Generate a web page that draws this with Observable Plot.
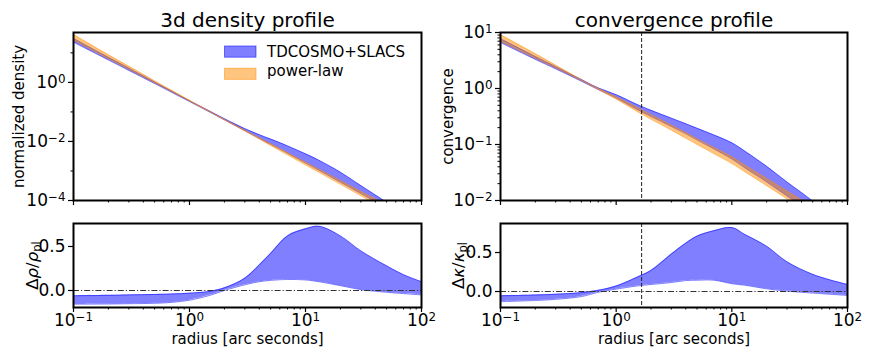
<!DOCTYPE html>
<html><head><meta charset="utf-8">
<script src="https://cdn.jsdelivr.net/npm/d3@7"></script>
<script src="https://cdn.jsdelivr.net/npm/@observablehq/plot@0.6"></script>
<style>
html,body{margin:0;padding:0;background:#fff;}
#root{position:relative;width:872px;height:363px;overflow:hidden;font-family:"DejaVu Sans",sans-serif;}
#root > svg{position:absolute;}
</style></head><body><div id="root"></div>
<script>
// ---------- data ----------
const radius = [0.1, 0.2, 0.3, 0.5, 0.7, 1, 1.5, 2, 3, 4, 5, 7, 10, 13, 20, 30, 50, 70, 100];
// log10 of normalized 3d density, band bounds
const rhoModelLo = [1.36, 0.759, 0.404, -0.039, -0.335, -0.65, -1.01, -1.271, -1.636, -1.897, -2.099, -2.40, -2.73, -2.973, -3.381, -3.766, -4.259, -4.58, -4.93];
const rhoModelHi = [1.49, 0.849, 0.479, 0.011, -0.295, -0.62, -0.975, -1.231, -1.566, -1.772, -1.919, -2.15, -2.42, -2.633, -3.041, -3.496, -4.059, -4.42, -4.78];
const rhoPlLo = [1.43, 0.804, 0.444, -0.009, -0.31, -0.632, -1.0, -1.266, -1.65, -1.923, -2.136, -2.456, -2.795, -3.044, -3.453, -3.839, -4.325, -4.644, -4.983];
const rhoPlHi = [1.62, 0.934, 0.544, 0.051, -0.27, -0.608, -0.99, -1.256, -1.622, -1.881, -2.082, -2.384, -2.705, -2.942, -3.329, -3.693, -4.153, -4.456, -4.777];
// log10 of convergence, band bounds
const kappaModelLo = [0.82, 0.52, 0.35, 0.13, -0.02, -0.17, -0.37, -0.50, -0.68, -0.81, -0.92, -1.08, -1.26, -1.42, -1.67, -1.92, -2.23, -2.43, -2.64];
const kappaModelHi = [0.89, 0.57, 0.39, 0.16, 0.01, -0.11, -0.28, -0.39, -0.53, -0.63, -0.71, -0.83, -0.97, -1.12, -1.39, -1.67, -2.01, -2.28, -2.52];
const kappaPlLo = [0.84, 0.54, 0.365, 0.142, -0.02, -0.19, -0.405, -0.55, -0.745, -0.89, -1.0, -1.165, -1.34, -1.49, -1.735, -1.97, -2.265, -2.46, -2.665];
const kappaPlHi = [0.96, 0.62, 0.415, 0.158, 0.0, -0.15, -0.335, -0.47, -0.655, -0.79, -0.9, -1.055, -1.22, -1.37, -1.605, -1.83, -2.115, -2.30, -2.495];
// relative deviation from power-law
const dRhoLo = [-0.155, -0.153, -0.15, -0.145, -0.135, -0.11, -0.055, 0.0, 0.065, 0.10, 0.115, 0.125, 0.12, 0.10, 0.055, 0.01, -0.02, -0.035, -0.05];
const dRhoHi = [-0.06, -0.055, -0.05, -0.045, -0.04, -0.03, -0.01, 0.03, 0.14, 0.29, 0.42, 0.62, 0.70, 0.73, 0.62, 0.45, 0.28, 0.18, 0.10];
const dKappaLo = [-0.13, -0.115, -0.10, -0.065, -0.01, 0.03, 0.07, 0.09, 0.115, 0.14, 0.145, 0.145, 0.10, 0.08, 0.035, 0.005, -0.02, -0.035, -0.05];
const dKappaHi = [-0.055, -0.045, -0.035, -0.015, 0.015, 0.07, 0.18, 0.27, 0.48, 0.62, 0.71, 0.78, 0.82, 0.73, 0.58, 0.38, 0.22, 0.15, 0.09];
const einsteinRadius = 1.66;

const titles = ["3d density profile", "convergence profile"];
const yLabels = ["normalized density", "convergence", "Δρ/ρ_pl", "Δκ/κ_pl"];
const xLabel = "radius [arc seconds]";
const legendLabels = ["TDCOSMO+SLACS", "power-law"];

const xMajor = [0.1, 1, 10, 100];
const xMinor = [0.1, 1, 10].flatMap(d => [2,3,4,5,6,7,8,9].map(k => k * d));
const rhoMajor = [1, 1e-2, 1e-4];
const rhoMinor = [10, 1e-1, 1e-3];
const kappaMajor = [10, 1, 0.1, 0.01];
const kappaMinor = [0.01, 0.1, 1].flatMap(d => [2,3,4,5,6,7,8,9].map(k => k * d));
const deltaTicks = [0, 0.5];

// ---------- styling ----------
const BLUE = "blue";
const ORANGE = "#ff8c00";
const FONT = "DejaVu Sans";
const curve = "catmull-rom";

const rhoRows = radius.map((r, i) => ({r, mLo: 10 ** rhoModelLo[i], mHi: 10 ** rhoModelHi[i], pLo: 10 ** rhoPlLo[i], pHi: 10 ** rhoPlHi[i]}));
const kapRows = radius.map((r, i) => ({r, mLo: 10 ** kappaModelLo[i], mHi: 10 ** kappaModelHi[i], pLo: 10 ** kappaPlLo[i], pHi: 10 ** kappaPlHi[i]}));
const dRhoRows = radius.map((r, i) => ({r, lo: dRhoLo[i], hi: dRhoHi[i]}));
const dKapRows = radius.map((r, i) => ({r, lo: dKappaLo[i], hi: dKappaHi[i]}));

const logFmt = d => `10^${Math.round(Math.log10(d))}`;
const none = () => "";

function band(rows, lo, hi, color) {
  return [
    Plot.areaY(rows, {x: "r", y1: lo, y2: hi, fill: color, fillOpacity: 0.5, curve, clip: true}),
    Plot.line(rows, {x: "r", y: lo, stroke: color, strokeOpacity: 0.5, strokeWidth: 1, curve, clip: true}),
    Plot.line(rows, {x: "r", y: hi, stroke: color, strokeOpacity: 0.5, strokeWidth: 1, curve, clip: true})
  ];
}

const style = {fontFamily: FONT, fontSize: "17px", background: "transparent", overflow: "visible", color: "black"};

function yLabelMark(text, dx, size) {
  return Plot.text([text], {text: d => d, frameAnchor: "left", rotate: -90, dx, lineAnchor: "middle", textAnchor: "middle", fontSize: size});
}

function topPanel({rows, yDomain, yMajor, yMinor, title, ylabel, ml, mr, ylabDx, extra}) {
  return Plot.plot({
    width: 436, height: 215, marginLeft: ml, marginRight: mr, marginTop: 32, marginBottom: 15,
    x: {type: "log", domain: [0.1, 100], label: null},
    y: {type: "log", domain: yDomain, label: null},
    style,
    marks: [
      ...band(rows, "mLo", "mHi", BLUE),
      ...band(rows, "pLo", "pHi", ORANGE),
      ...extra,
      Plot.axisY({ticks: yMajor, tickSize: 5, tickPadding: 3, tickFormat: logFmt, fontSize: 17, strokeWidth: 1.2, label: null}),
      Plot.axisY({ticks: yMinor, tickSize: 2.5, tickFormat: none, strokeWidth: 1, label: null}),
      Plot.axisX({ticks: xMajor, tickSize: 5, tickFormat: none, strokeWidth: 1.2, label: null}),
      Plot.axisX({ticks: xMinor, tickSize: 2.5, tickFormat: none, strokeWidth: 1, label: null}),
      Plot.frame({stroke: "black", strokeWidth: 2}),
      Plot.text([title], {text: d => d, frameAnchor: "top", lineAnchor: "bottom", dy: -6, fontSize: 20}),
      yLabelMark(ylabel, ylabDx, 15)
    ]
  });
}

function bottomPanel({rows, yDomain, ylabel, ml, mr, ylabDx, extra}) {
  return Plot.plot({
    width: 436, height: 148, marginLeft: ml, marginRight: mr, marginTop: 8, marginBottom: 56,
    x: {type: "log", domain: [0.1, 100], label: null},
    y: {domain: yDomain, label: null},
    style,
    marks: [
      ...band(rows, "lo", "hi", BLUE),
      Plot.ruleY([0], {stroke: "#333", strokeWidth: 1, strokeDasharray: "6,2,1.2,2"}),
      ...extra,
      Plot.axisY({ticks: deltaTicks, tickSize: 5, tickPadding: 3, tickFormat: d3.format(".1f"), fontSize: 17, strokeWidth: 1.2, label: null}),
      Plot.axisX({ticks: xMajor, tickSize: 5, tickPadding: 1.5, tickFormat: logFmt, fontSize: 17, strokeWidth: 1.2, label: null}),
      Plot.axisX({ticks: xMinor, tickSize: 2.5, tickFormat: none, strokeWidth: 1, label: null}),
      Plot.frame({stroke: "black", strokeWidth: 2}),
      Plot.text([xLabel], {text: d => d, frameAnchor: "bottom", lineAnchor: "bottom", dy: 36, fontSize: 15}),
      yLabelMark(ylabel, ylabDx, 16.5)
    ]
  });
}

const dashed = Plot.ruleX([einsteinRadius], {stroke: "#222", strokeWidth: 1, strokeDasharray: "4,2"});

const panels = [
  {svg: topPanel({rows: rhoRows, yDomain: [1e-4, 10 ** 1.69], yMajor: rhoMajor, yMinor: rhoMinor, title: titles[0], ylabel: yLabels[0], ml: 73, mr: 15, ylabDx: -54, extra: []}), left: 0, top: 0},
  {svg: topPanel({rows: kapRows, yDomain: [1e-2, 10], yMajor: kappaMajor, yMinor: kappaMinor, title: titles[1], ylabel: yLabels[1], ml: 64, mr: 25, ylabDx: -52, extra: [dashed]}), left: 436, top: 0},
  {svg: bottomPanel({rows: dRhoRows, yDomain: [-0.193, 0.761], ylabel: yLabels[2], ml: 73, mr: 15, ylabDx: -41, extra: []}), left: 0, top: 215},
  {svg: bottomPanel({rows: dKapRows, yDomain: [-0.205, 0.872], ylabel: yLabels[3], ml: 64, mr: 25, ylabDx: -42, extra: [dashed]}), left: 436, top: 215}
];

// ---------- typesetting of math-like labels ----------
const NS = "http://www.w3.org/2000/svg";
function span(txt, attrs) {
  const s = document.createElementNS(NS, "tspan");
  s.textContent = txt;
  for (const k in attrs) s.setAttribute(k, attrs[k]);
  return s;
}
function typeset(svg) {
  svg.querySelectorAll("text").forEach(t => {
    const s = t.textContent;
    const m = s.match(/^10\^(-?\d+)$/);
    if (m) {
      t.textContent = "10";
      t.appendChild(span(m[1].replace("-", "\u2212"), {dy: "-0.42em", "font-size": "70%"}));
      return;
    }
    if (s === "Δρ/ρ_pl" || s === "Δκ/κ_pl") {
      const g = s[1];
      t.textContent = "";
      t.appendChild(span("Δ", {}));
      t.appendChild(span(g, {"font-style": "italic"}));
      t.appendChild(span("/", {}));
      t.appendChild(span(g, {"font-style": "italic"}));
      t.appendChild(span("pl", {dy: "0.3em", "font-size": "70%"}));
    }
  });
}

const root = document.getElementById("root");
for (const p of panels) {
  typeset(p.svg);
  p.svg.style.left = p.left + "px";
  p.svg.style.top = p.top + "px";
  p.svg.style.position = "absolute";
  root.appendChild(p.svg);
}

// ---------- legend ----------
const leg = d3.select(root).append("svg")
  .attr("width", 436).attr("height", 215)
  .style("position", "absolute").style("left", "0px").style("top", "0px");
const legItems = [{label: legendLabels[0], color: BLUE, y: 46, base: 57.3}, {label: legendLabels[1], color: ORANGE, y: 68.2, base: 76.4}];
for (const it of legItems) {
  leg.append("rect").attr("x", 224.5).attr("y", it.y).attr("width", 31.5).attr("height", 11.2)
    .attr("fill", it.color).attr("fill-opacity", 0.5).attr("stroke", it.color).attr("stroke-opacity", 0.5);
  leg.append("text").attr("x", 267).attr("y", it.base).attr("font-family", FONT).attr("font-size", 15).text(it.label);
}
</script>
</body></html>
